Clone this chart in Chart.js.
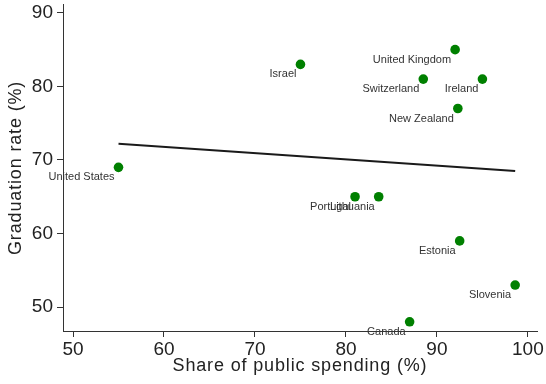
<!DOCTYPE html>
<html>
<head>
<meta charset="utf-8">
<title>Graduation rate vs. share of public spending</title>
<script src="https://cdn.jsdelivr.net/npm/chart.js@4/dist/chart.umd.min.js"></script>
<style>
  html, body { margin: 0; padding: 0; background: #fff; }
  canvas { display: block; }
</style>
</head>
<body>
<canvas id="chart" width="546" height="384"></canvas>
<script>
// Countries and their values
const countries = ['United States', 'Israel', 'United Kingdom', 'Switzerland', 'Ireland',
  'New Zealand', 'Portugal', 'Lithuania', 'Estonia', 'Slovenia', 'Canada'];
const publicShare = [55, 75, 92, 88.5, 95, 92.3, 81, 83.6, 92.5, 98.6, 87];
const gradRate = [69, 83, 85, 81, 81, 77, 65, 65, 59, 53, 48];

// Linear fit endpoints
const fitX = [55, 98.6];
const fitY = [72.2, 68.5];

// Axis ticks and titles
const xTicks = [50, 60, 70, 80, 90, 100];
const yTicks = [50, 60, 70, 80, 90];
const xTitle = 'Share of public spending (%)';
const yTitle = 'Graduation rate (%)';

const FONT = "'Liberation Sans', Arial, Helvetica, sans-serif";
const AXIS_COLOR = '#333';

// Country names next to each marker
const markerLabels = {
  id: 'markerLabels',
  afterDatasetsDraw(chart) {
    const meta = chart.getDatasetMeta(0);
    const ctx = chart.ctx;
    ctx.save();
    ctx.font = '11px ' + FONT;
    ctx.fillStyle = '#333';
    ctx.textAlign = 'right';
    ctx.textBaseline = 'middle';
    meta.data.forEach((el, i) => {
      ctx.fillText(countries[i], el.x - 4, el.y + 10);
    });
    ctx.restore();
  }
};

// Axis titles, slightly tracked out
const axisTitles = {
  id: 'axisTitles',
  afterDraw(chart) {
    const ctx = chart.ctx;
    const area = chart.chartArea;
    ctx.save();
    ctx.font = '18px ' + FONT;
    ctx.fillStyle = '#222';
    ctx.textAlign = 'center';
    ctx.textBaseline = 'middle';
    if ('letterSpacing' in ctx) ctx.letterSpacing = '0.85px';
    ctx.fillText(xTitle, (area.left + area.right) / 2, 366.5);
    ctx.translate(16, (area.top + area.bottom) / 2);
    ctx.rotate(-Math.PI / 2);
    ctx.fillText(yTitle, 0, 0);
    ctx.restore();
  }
};

new Chart(document.getElementById('chart'), {
  type: 'scatter',
  data: {
    datasets: [
      {
        label: 'Countries',
        data: publicShare.map((x, i) => ({ x: x, y: gradRate[i] })),
        backgroundColor: '#008000',
        borderWidth: 0,
        pointRadius: 4.8,
        pointHoverRadius: 4.8,
        order: 2
      },
      {
        type: 'line',
        label: 'Fitted values',
        data: fitX.map((x, i) => ({ x: x, y: fitY[i] })),
        borderColor: '#1a1a1a',
        borderWidth: 2,
        pointRadius: 0,
        fill: false,
        order: 1
      }
    ]
  },
  options: {
    responsive: false,
    animation: false,
    layout: { padding: { top: 4, right: 9, left: 0, bottom: 0 } },
    plugins: {
      legend: { display: false },
      tooltip: { enabled: false }
    },
    scales: {
      x: {
        type: 'linear',
        min: 48.9,
        max: 101,
        afterBuildTicks: s => { s.ticks = xTicks.map(v => ({ value: v })); },
        afterFit: s => { s.height = 53; s.paddingLeft = 0; s.paddingRight = 0; },
        ticks: {
          color: '#222',
          font: { family: FONT, size: 19, lineHeight: 1 },
          padding: 3,
          maxRotation: 0,
          autoSkip: false
        },
        grid: { display: true, drawOnChartArea: false, drawTicks: true, tickLength: 6, color: AXIS_COLOR, lineWidth: 1 },
        border: { display: true, color: AXIS_COLOR, width: 1 }
      },
      y: {
        type: 'linear',
        min: 46.75,
        max: 91.1,
        afterBuildTicks: s => { s.ticks = yTicks.map(v => ({ value: v })); },
        afterFit: s => { s.width = 63; s.paddingTop = 0; s.paddingBottom = 0; },
        ticks: {
          color: '#222',
          font: { family: FONT, size: 19, lineHeight: 1 },
          padding: 4,
          autoSkip: false
        },
        grid: { display: true, drawOnChartArea: false, drawTicks: true, tickLength: 6, color: AXIS_COLOR, lineWidth: 1 },
        border: { display: true, color: AXIS_COLOR, width: 1 }
      }
    }
  },
  plugins: [markerLabels, axisTitles]
});
</script>
</body>
</html>
